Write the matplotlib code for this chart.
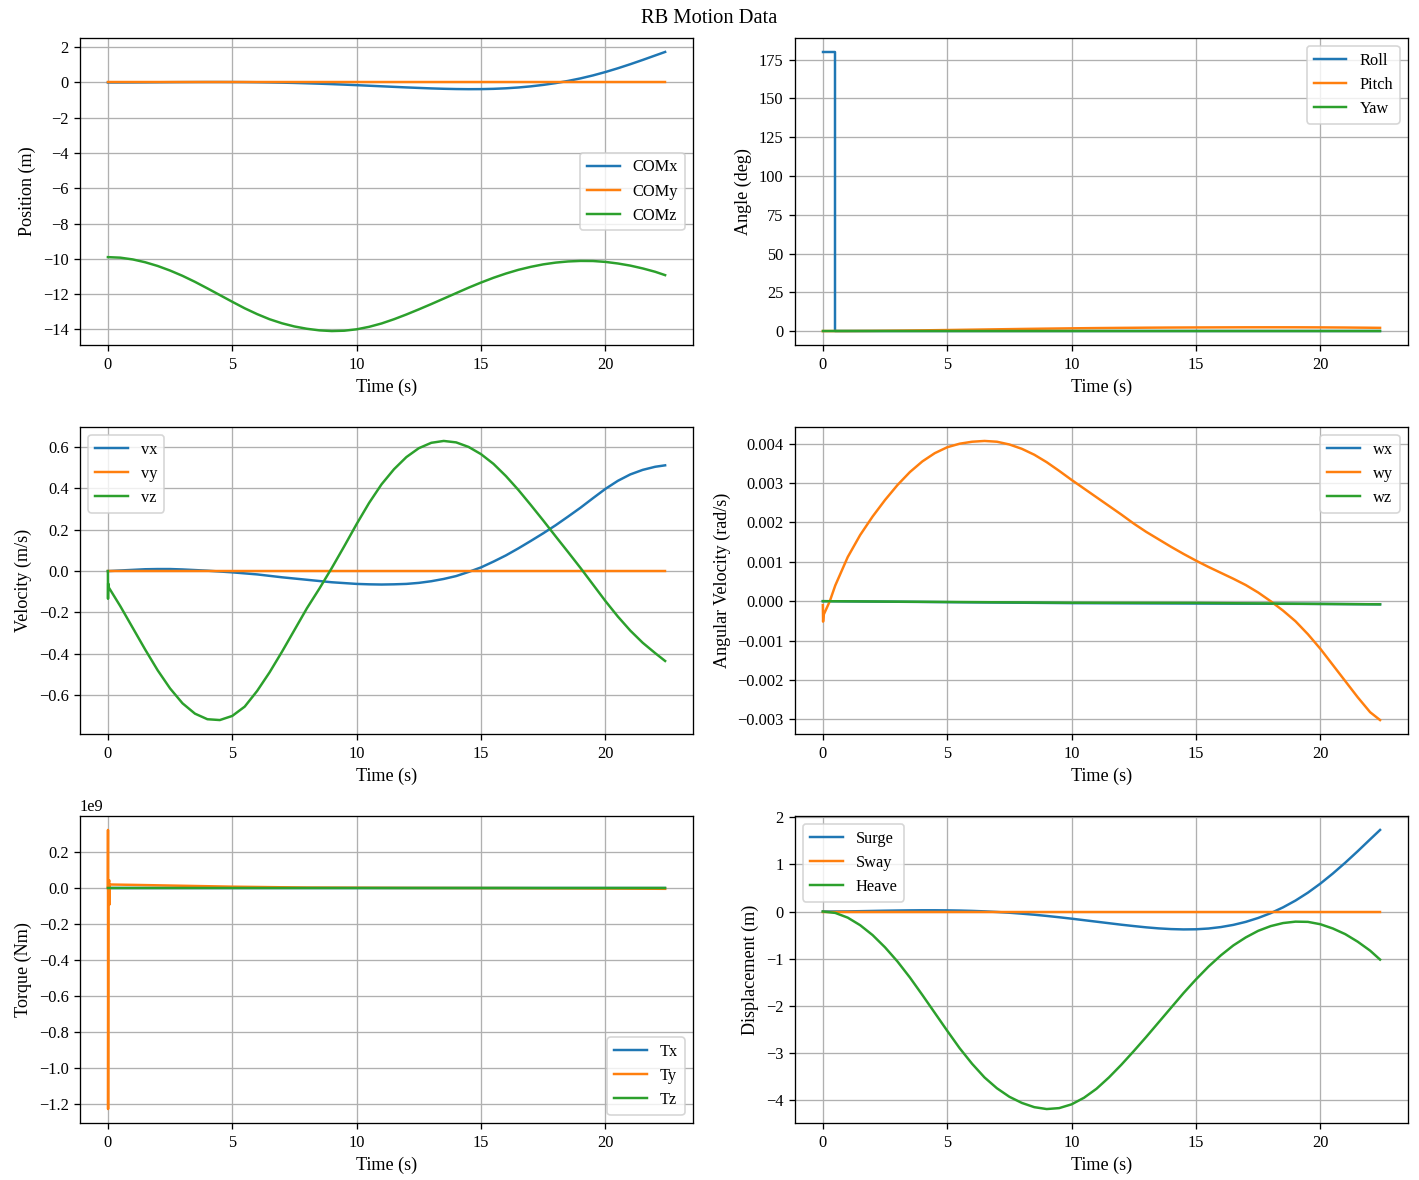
import numpy as np
import matplotlib
matplotlib.use("Agg")
import matplotlib.pyplot as plt

plt.rcParams['font.family'] = ['Liberation Serif', 'DejaVu Serif']
plt.rcParams['axes.unicode_minus'] = True

# ---------------- data ----------------
time = np.append(np.arange(0, 22.5, 0.5), 22.4)   # 0, 0.5, ..., 22.0, 22.4

surge = [0.0, 0.001, 0.003, 0.007, 0.012, 0.017, 0.021, 0.024, 0.026, 0.026,
         0.024, 0.020, 0.013, 0.003, -0.010, -0.026, -0.046, -0.068, -0.094, -0.122,
         -0.152, -0.184, -0.216, -0.248, -0.280, -0.309, -0.336, -0.358, -0.373, -0.380,
         -0.377, -0.361, -0.330, -0.284, -0.220, -0.137, -0.036, 0.088, 0.232, 0.400,
         0.592, 0.805, 1.035, 1.278, 1.530, 1.730]
sway = [0.0] * 46
heave = [0.00, -0.03, -0.13, -0.29, -0.50, -0.76, -1.06, -1.40, -1.77, -2.15,
         -2.53, -2.90, -3.23, -3.52, -3.75, -3.93, -4.06, -4.15, -4.19, -4.17,
         -4.09, -3.95, -3.76, -3.52, -3.25, -2.96, -2.66, -2.35, -2.04, -1.73,
         -1.44, -1.17, -0.93, -0.72, -0.55, -0.41, -0.31, -0.245, -0.215, -0.22,
         -0.27, -0.36, -0.48, -0.64, -0.83, -1.02]

com0 = [0.0, 0.0, -9.9]   # initial centre of mass position
com_x = [com0[0] + v for v in surge]
com_y = [com0[1] + v for v in sway]
com_z = [com0[2] + v for v in heave]

roll_t = [0.0, 0.5, 0.5, 22.4]
roll = [180.0, 180.0, 0.0, 0.0]
pitch_t = list(range(0, 23)) + [22.4]
pitch = [0.0, 0.03, 0.12, 0.27, 0.46, 0.67, 0.90, 1.13, 1.36, 1.57, 1.76, 1.93,
         2.06, 2.18, 2.27, 2.33, 2.38, 2.42, 2.43, 2.42, 2.37, 2.28, 2.14, 2.07]
yaw_t = [0.0, 22.4]
yaw = [0.0, 0.0]

vx = [0.0, 0.003, 0.006, 0.009, 0.010, 0.010, 0.008, 0.005, 0.002, -0.002,
      -0.006, -0.011, -0.016, -0.023, -0.030, -0.036, -0.042, -0.048, -0.054, -0.058,
      -0.062, -0.064, -0.065, -0.064, -0.062, -0.057, -0.049, -0.038, -0.024, -0.004,
      0.018, 0.046, 0.076, 0.110, 0.146, 0.183, 0.222, 0.264, 0.307, 0.353,
      0.398, 0.437, 0.468, 0.490, 0.505, 0.512]
vy = [0.0] * 46
vz_start_t = [0.0, 0.005, 0.01, 0.04]
vz_start = [0.0, -0.134, -0.06, -0.08]
vz_rest = [-0.170, -0.275, -0.380, -0.480, -0.568, -0.640, -0.690, -0.717, -0.721,
           -0.701, -0.656, -0.580, -0.490, -0.390, -0.285, -0.180, -0.085, 0.015, 0.120,
           0.228, 0.330, 0.420, 0.493, 0.552, 0.595, 0.621, 0.630, 0.623, 0.601,
           0.566, 0.519, 0.460, 0.393, 0.320, 0.245, 0.168, 0.092, 0.015, -0.065,
           -0.145, -0.220, -0.288, -0.347, -0.397, -0.435]

wxz_t = [0.0, 5.0, 10.0, 15.0, 20.0, 22.4]
wx = [0.0, -0.000025, -0.00005, -0.00006, -0.00007, -0.00008]
wz = [0.0, -0.00002, -0.00004, -0.000045, -0.00007, -0.00008]
wy_start_t = [0.0, 0.01, 0.03, 0.28]
wy_start = [-0.0001, -0.00052, -0.00035, 0.0]
wy_rest = [0.00040, 0.00112, 0.00168, 0.00215, 0.00257, 0.00295, 0.00328, 0.00355, 0.00376,
           0.00391, 0.00400, 0.00405, 0.00407, 0.00405, 0.00398, 0.00387, 0.00372, 0.00353, 0.00331,
           0.00308, 0.00286, 0.00264, 0.00242, 0.00220, 0.00197, 0.00176, 0.00157, 0.00138, 0.00120,
           0.00103, 0.00087, 0.00072, 0.00057, 0.00041, 0.00022, 0.00000, -0.00024, -0.00051, -0.00084,
           -0.00121, -0.00162, -0.00203, -0.00244, -0.00282, -0.00302]

txz_t = [0.0, 22.4]
tx = [0.0, 0.0]
tz = [0.0, 0.0]
ty_t = [0.0, 0.004, 0.008, 0.02, 0.055, 0.06, 0.07, 1.0, 3.0, 5.0, 8.0, 12.0, 16.0, 20.0, 22.4]
ty = [0.0, 3.2e8, -1.23e9, 2.0e7, 4.0e7, -9.5e7, 1.7e7, 1.5e7, 1.0e7, 5.0e6, 0.0,
      -2.0e6, -3.0e6, -5.0e6, -7.0e6]

# ---------------- figure ----------------
DPI = 118.25
fig, axes = plt.subplots(3, 2, figsize=(1419 / DPI, 1180 / DPI), dpi=DPI)
fig.subplots_adjust(left=0.0564, right=0.9922, top=0.9678, bottom=0.0483,
                    wspace=0.1664, hspace=0.267)

TICK = 10
LAB = 11
LEG = 10

def style(ax, ylabel, loc):
    ax.set_xlabel('Time (s)', fontsize=LAB)
    ax.set_ylabel(ylabel, fontsize=LAB)
    ax.grid(True)
    ax.tick_params(labelsize=TICK)
    ax.yaxis.get_offset_text().set_fontsize(TICK)
    ax.legend(loc=loc, fontsize=LEG)

ax = axes[0, 0]
ax.plot(time, com_x, label='COMx')
ax.plot(time, com_y, label='COMy')
ax.plot(time, com_z, label='COMz')
style(ax, 'Position (m)', 'center right')

ax = axes[0, 1]
ax.plot(roll_t, roll, label='Roll')
ax.plot(pitch_t, pitch, label='Pitch')
ax.plot(yaw_t, yaw, label='Yaw')
style(ax, 'Angle (deg)', 'upper right')

ax = axes[1, 0]
ax.plot(time, vx, label='vx')
ax.plot(time, vy, label='vy')
ax.plot(vz_start_t + list(time[1:]), vz_start + vz_rest, label='vz')
style(ax, 'Velocity (m/s)', 'upper left')

ax = axes[1, 1]
ax.plot(wxz_t, wx, label='wx')
ax.plot(wy_start_t + list(time[1:]), wy_start + wy_rest, label='wy')
ax.plot(wxz_t, wz, label='wz')
style(ax, 'Angular Velocity (rad/s)', 'upper right')

ax = axes[2, 0]
ax.plot(txz_t, tx, label='Tx')
ax.plot(ty_t, ty, label='Ty')
ax.plot(txz_t, tz, label='Tz')
style(ax, 'Torque (Nm)', 'lower right')

ax = axes[2, 1]
ax.plot(time, surge, label='Surge')
ax.plot(time, sway, label='Sway')
ax.plot(time, heave, label='Heave')
style(ax, 'Displacement (m)', 'upper left')

fig.suptitle('RB Motion Data', fontsize=12.5, y=0.9847, va='center')

fig.savefig('out.png', dpi=DPI)
